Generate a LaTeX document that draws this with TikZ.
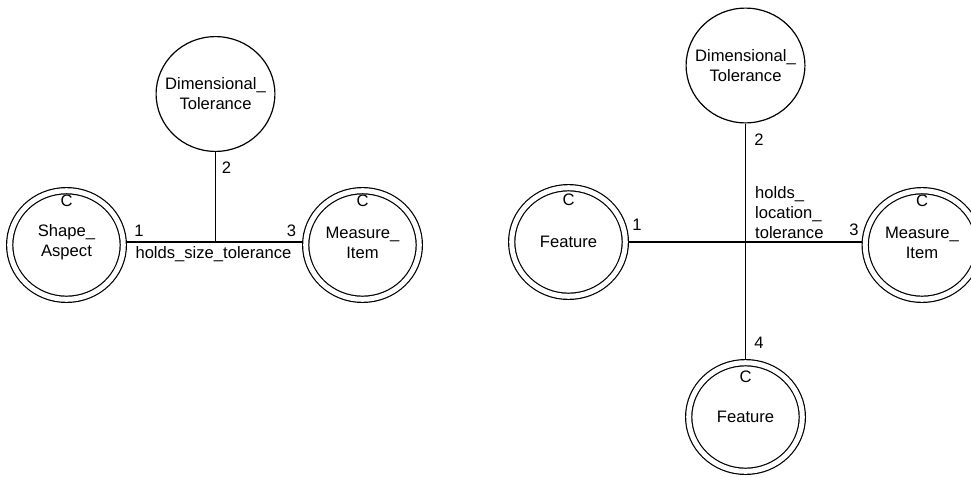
\documentclass[tikz,border=0pt]{standalone}
\usepackage{fontspec}
\setmainfont{Liberation Sans}
\usetikzlibrary{shapes.geometric}
\begin{document}
\begin{tikzpicture}[x=1pt,y=-1pt,
  every node/.style={font=\fontsize{16.6}{20}\selectfont, inner sep=0pt},
  relation/.style={ellipse, draw, line width=1.2pt,
    minimum width=118.8pt, minimum height=114.8pt, outer sep=0.6pt},
  entity/.style={ellipse, draw, line width=1.2pt, double, double distance=5pt,
    minimum width=113.6pt, minimum height=108.6pt, outer sep=3.7pt},
  caption/.style={align=center},
  link/.style={line width=1.2pt},
]
\useasboundingbox (0,0) rectangle (971,477);

% ---------- holds_size_tolerance ----------
\node[relation] (DT1) at (215.5,94) {};
\node[caption] at (DT1.center) {Dimensional\_\\Tolerance};

\node[entity] (SA) at (66.5,245) {};
\node at ([yshift=44pt]SA.center) {C};
\node[caption] at ([yshift=2.5pt]SA.center) {Shape\_\\Aspect};

\node[entity] (MI1) at (362.5,245) {};
\node at ([yshift=44pt]MI1.center) {C};
\node[caption] at ([yshift=2.5pt]MI1.center) {Measure\_\\Item};

\coordinate (J1) at (215.5,242);
\draw[link] (SA.east |- J1) -- (MI1.west |- J1);
\draw[link] (DT1.south) -- (J1);

\node at (139,231) {1};
\node at (226.5,168) {2};
\node at (291.5,231) {3};
\node at (213.5,254) {holds\_size\_tolerance};

% ---------- holds_location_tolerance ----------
\node[relation] (DT2) at (745.5,65.5) {};
\node[caption] at (DT2.center) {Dimensional\_\\Tolerance};

\node[entity] (F1) at (568.5,242) {};
\node at ([yshift=42pt]F1.center) {C};
\node[caption] at (F1.center) {Feature};

\node[entity] (MI2) at (922,245) {};
\node at ([yshift=44pt]MI2.center) {C};
\node[caption] at ([yshift=2.5pt]MI2.center) {Measure\_\\Item};

\node[entity] (F2) at (745.5,417) {};
\node at ([yshift=40pt]F2.center) {C};
\node[caption] at (F2.center) {Feature};

\coordinate (J2) at (745.5,242);
\draw[link] (F1.east |- J2) -- (MI2.west |- J2);
\draw[link] (DT2.south) -- (F2.north);

\node at (637,225) {1};
\node at (759,140) {2};
\node at (854,230) {3};
\node at (759,343) {4};
\node[align=left, anchor=west] at (755,212.6) {holds\_\\location\_\\tolerance};
\end{tikzpicture}
\end{document}
